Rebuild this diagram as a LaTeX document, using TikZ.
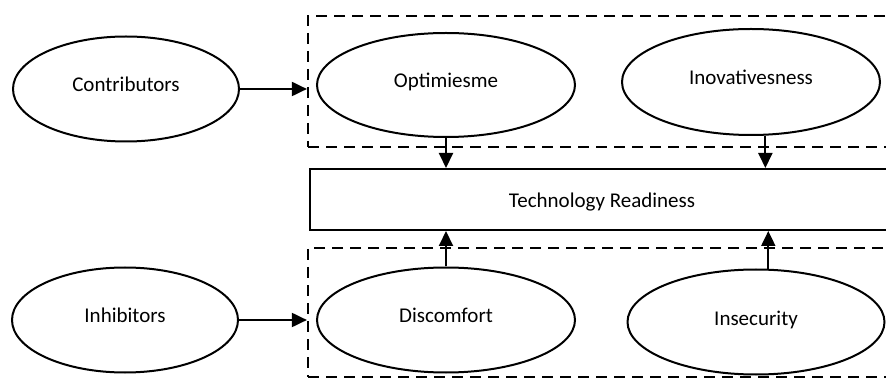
\documentclass[tikz,border=0pt]{standalone}
\usepackage{fontspec}
\setmainfont{Carlito}
\usetikzlibrary{shapes.geometric,arrows.meta}
\begin{document}
\begin{tikzpicture}[x=1pt,y=-1pt,
  oval/.style={ellipse,draw,line width=2pt,inner sep=0pt,font=\fontsize{21}{25}\selectfont,text height=9pt,text depth=3pt},
  dbox/.style={draw,line width=2.2pt,dash pattern=on 11pt off 7pt,inner sep=0pt},
  trbox/.style={draw,line width=2pt,inner sep=0pt,font=\fontsize{21}{25}\selectfont,text height=16pt,text depth=0pt},
  arr/.style={line width=2pt,-{Triangle[length=15pt,width=14pt]}}]
\useasboundingbox (0,0) rectangle (886,379);
\clip (0,0) rectangle (886,379);
\fill[white] (0,0) rectangle (886,379);
% dashed groups
\node[dbox,minimum width=592pt,minimum height=131pt] (topbox) at (604,81.5) {};
\node[dbox,minimum width=592pt,minimum height=129pt] (botbox) at (604,312.5) {};
% technology readiness
\node[trbox,minimum width=584pt,minimum height=61pt] (tr) at (602,199.5) {Technology Readiness};
% ellipses
\node[oval,minimum width=226pt,minimum height=105pt] (contrib) at (126,89) {Contributors};
\node[oval,minimum width=258pt,minimum height=104pt] (opt) at (446,85) {Optimiesme};
\node[oval,minimum width=258pt,minimum height=106pt] (innov) at (751,82) {Inovativesness};
\node[oval,minimum width=226pt,minimum height=105pt] (inhib) at (125,320) {Inhibitors};
\node[oval,minimum width=258pt,minimum height=105pt] (disc) at (446,320) {Discomfort};
\node[oval,minimum width=257pt,minimum height=105pt] (insec) at (756,322) {Insecurity};
% arrows
\draw[arr] (contrib.east) -- (contrib.east -| topbox.west);
\draw[arr] (inhib.east) -- (inhib.east -| botbox.west);
\draw[arr] (opt.south) -- (opt.south |- tr.north);
\draw[arr] (innov.-75) -- (innov.-75 |- tr.north);
\draw[arr] (disc.north) -- (disc.north |- tr.south);
\draw[arr] (insec.77) -- (insec.77 |- tr.south);
\end{tikzpicture}
\end{document}
